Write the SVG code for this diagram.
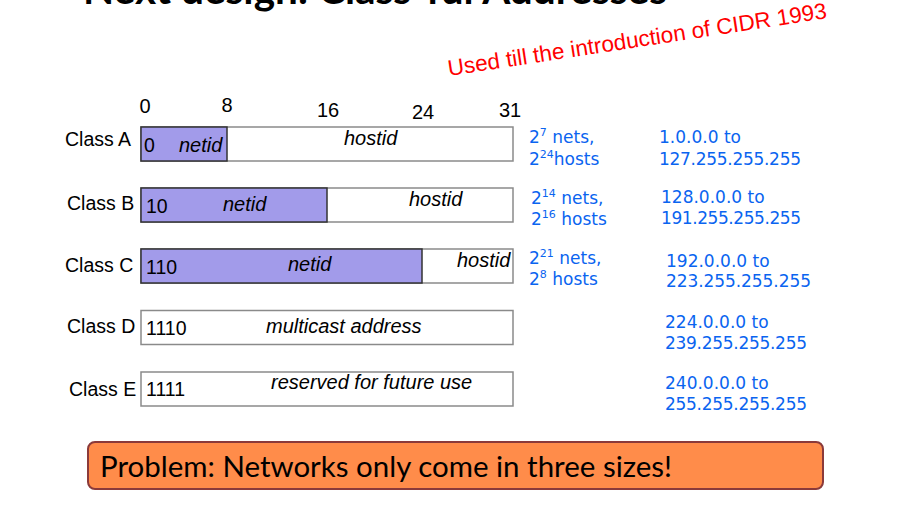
<svg xmlns="http://www.w3.org/2000/svg" width="902" height="512" viewBox="0 0 902 512">
  <style>
    .lbl { font-family: "Liberation Sans", Arial, sans-serif; font-size: 19.5px; fill: #000; }
    .it { font-family: "Liberation Sans", Arial, sans-serif; font-size: 20px; font-style: italic; fill: #000; }
    .bits { font-family: "Liberation Sans", Arial, sans-serif; font-size: 19.5px; fill: #000; }
    .tick { font-family: "Liberation Sans", Arial, sans-serif; font-size: 20px; fill: #000; text-anchor: middle; }
    .blue { font-family: "DejaVu Sans", Verdana, sans-serif; font-size: 17px; fill: #0a64f0; }
    .sup { font-size: 11px; }
    .field { fill: #fff; stroke: #8a8a8a; stroke-width: 1.5; }
    .net { fill: #a29bea; stroke: #333; stroke-width: 1.5; }
  </style>

  <!-- heading (runs past the top edge) -->
  <text x="83" y="4" font-family="Lato, 'Liberation Sans', sans-serif" font-weight="bold" font-size="40" textLength="584" lengthAdjust="spacingAndGlyphs" fill="#000">Next design: Class-ful Addresses</text>

  <!-- side note -->
  <text x="449" y="76" transform="rotate(-8.7 449 76)" font-family="'Liberation Sans', Arial, sans-serif" font-size="22.5" fill="#ff0000" textLength="383" lengthAdjust="spacingAndGlyphs">Used till the introduction of CIDR 1993</text>

  <!-- bit positions -->
  <g id="bit-scale">
    <text class="tick" x="145" y="113">0</text>
    <text class="tick" x="227" y="111.5">8</text>
    <text class="tick" x="328" y="117">16</text>
    <text class="tick" x="423" y="119">24</text>
    <text class="tick" x="510" y="117">31</text>
  </g>

  <!-- Class A -->
  <g id="class-a">
    <text class="lbl" x="65" y="145.5">Class A</text>
    <rect class="field" x="141" y="127" width="372" height="34"/>
    <rect class="net" x="141" y="127" width="86" height="34"/>
    <text class="bits" x="144" y="152">0</text>
    <text class="it" x="179" y="152">netid</text>
    <text class="it" x="344" y="145">hostid</text>
  </g>

  <!-- Class B -->
  <g id="class-b">
    <text class="lbl" x="67" y="210">Class B</text>
    <rect class="field" x="141" y="188" width="372" height="34"/>
    <rect class="net" x="141" y="188" width="186" height="34"/>
    <text class="bits" x="146" y="212.5">10</text>
    <text class="it" x="223" y="211">netid</text>
    <text class="it" x="409" y="206">hostid</text>
  </g>

  <!-- Class C -->
  <g id="class-c">
    <text class="lbl" x="65" y="272">Class C</text>
    <rect class="field" x="141" y="249" width="372" height="34"/>
    <rect class="net" x="141" y="249" width="281" height="34"/>
    <text class="bits" x="146" y="274">110</text>
    <text class="it" x="288" y="271">netid</text>
    <text class="it" x="457" y="267">hostid</text>
  </g>

  <!-- Class D -->
  <g id="class-d">
    <text class="lbl" x="67" y="333">Class D</text>
    <rect class="field" x="141" y="310.5" width="372" height="34"/>
    <text class="bits" x="146" y="335">1110</text>
    <text class="it" x="266" y="332.5">multicast address</text>
  </g>

  <!-- Class E -->
  <g id="class-e">
    <text class="lbl" x="69" y="396">Class E</text>
    <rect class="field" x="141" y="372" width="372" height="34"/>
    <text class="bits" x="146" y="396">1111</text>
    <text class="it" x="271" y="389">reserved for future use</text>
  </g>

  <!-- network / host counts -->
  <g id="counts">
    <text class="blue" x="529" y="143">2<tspan class="sup" dy="-7">7</tspan><tspan dy="7"> nets,</tspan></text>
    <text class="blue" x="529" y="165">2<tspan class="sup" dy="-7">24</tspan><tspan dy="7">hosts</tspan></text>
    <text class="blue" x="531" y="204">2<tspan class="sup" dy="-7">14</tspan><tspan dy="7"> nets,</tspan></text>
    <text class="blue" x="531" y="225">2<tspan class="sup" dy="-7">16</tspan><tspan dy="7"> hosts</tspan></text>
    <text class="blue" x="529" y="264">2<tspan class="sup" dy="-7">21</tspan><tspan dy="7"> nets,</tspan></text>
    <text class="blue" x="529" y="285">2<tspan class="sup" dy="-7">8</tspan><tspan dy="7"> hosts</tspan></text>
  </g>

  <!-- address ranges -->
  <g id="ranges">
    <text class="blue" x="659" y="143">1.0.0.0 to</text>
    <text class="blue" x="659" y="165" textLength="142">127.255.255.255</text>
    <text class="blue" x="661" y="203">128.0.0.0 to</text>
    <text class="blue" x="661" y="223.5" textLength="140">191.255.255.255</text>
    <text class="blue" x="666" y="267">192.0.0.0 to</text>
    <text class="blue" x="666" y="287" textLength="145">223.255.255.255</text>
    <text class="blue" x="665" y="327.5">224.0.0.0 to</text>
    <text class="blue" x="665" y="348.5" textLength="142">239.255.255.255</text>
    <text class="blue" x="665" y="388.5">240.0.0.0 to</text>
    <text class="blue" x="665" y="409.5" textLength="142">255.255.255.255</text>
  </g>

  <!-- callout -->
  <g id="problem">
    <rect x="88" y="442" width="735" height="47" rx="7" fill="#ff8c4a" stroke="#8b3a3a" stroke-width="2"/>
    <text x="100" y="477" font-family="Lato, 'Open Sans', sans-serif" font-size="29" fill="#000" textLength="572" lengthAdjust="spacingAndGlyphs">Problem: Networks only come in three sizes!</text>
  </g>
</svg>
